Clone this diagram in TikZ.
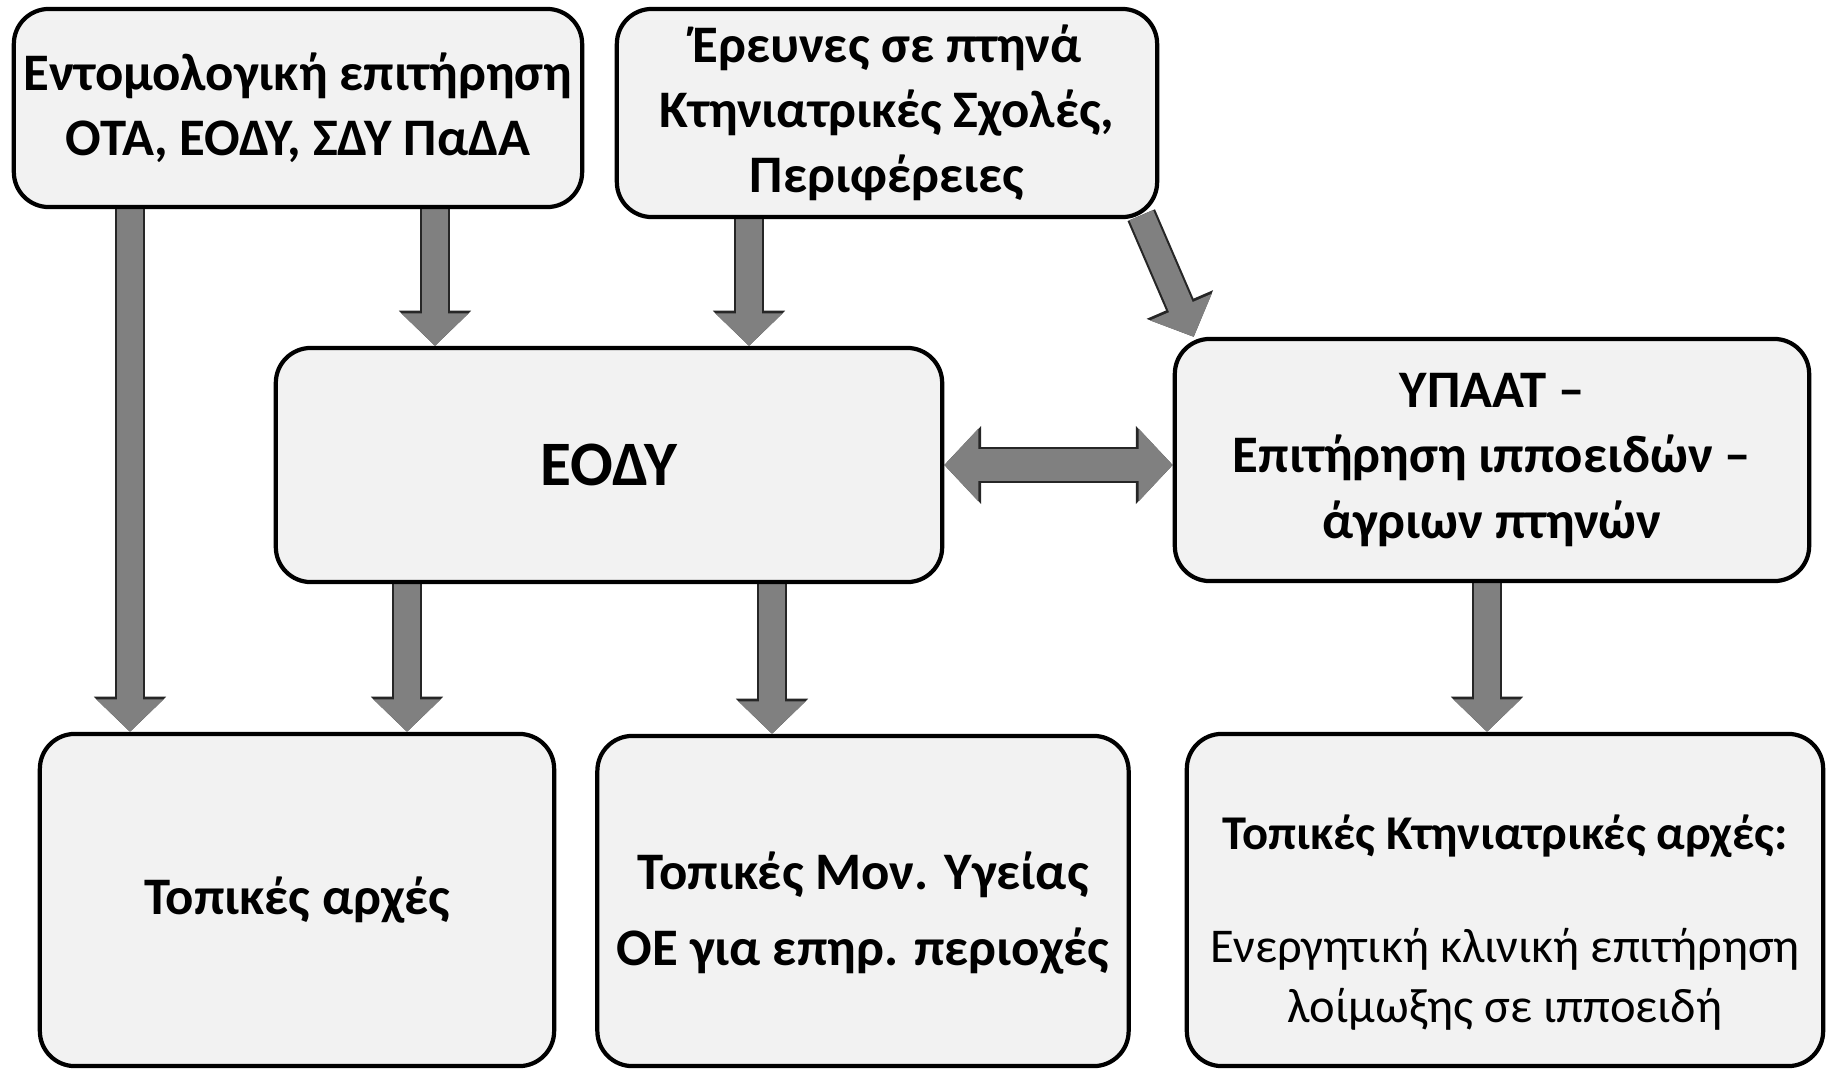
\documentclass[tikz,border=0pt]{standalone}
\usepackage{fontspec}
\setmainfont{Carlito}
\usetikzlibrary{arrows.meta, calc, positioning, backgrounds}

\definecolor{boxgray}{HTML}{F2F2F2}
\definecolor{arrowgray}{HTML}{808080}
\definecolor{arrowline}{HTML}{262626}

\tikzset{
    box/.style={draw=black, line width=1.2pt, rounded corners=0.35cm, fill=boxgray,
        align=center, inner sep=0pt, font=\bfseries\fontsize{15}{18.5}\selectfont},
    fatarrow/.style={draw=arrowgray, line width=7.3pt, -{Triangle[width=18.6pt,length=9.2pt]},
        preaction={draw=arrowline, line width=8.5pt, -{Triangle[width=20pt,length=10pt]}}},
    twoway/.style={draw=arrowgray, line width=9pt,
        {Triangle[width=20.2pt,length=9.7pt]}-{Triangle[width=20.2pt,length=9.7pt]},
        preaction={draw=arrowline, line width=10.2pt,
        {Triangle[width=21.6pt,length=10.5pt]}-{Triangle[width=21.6pt,length=10.5pt]}}},
}

\begin{document}
\begin{tikzpicture}[x=0.01cm, y=-0.01cm]
    \useasboundingbox (0,0) rectangle (1832,1069);

    % Top row: where the data come from
    \node[box, minimum width=5.68cm, minimum height=1.98cm] (ento) at (298,108)
        {Εντομολογική επιτήρηση\\ΟΤΑ, ΕΟΔΥ, ΣΔΥ ΠαΔΑ};
    \node[box, minimum width=5.40cm, minimum height=2.08cm] (birds) at (887,113)
        {Έρευνες σε πτηνά\\Κτηνιατρικές Σχολές,\\Περιφέρειες};

    % Middle row
    \node[box, minimum width=6.66cm, minimum height=2.34cm, font=\bfseries\fontsize{18}{22}\selectfont] (eody) at (609,465) {ΕΟΔΥ};
    \node[box, minimum width=6.34cm, minimum height=2.42cm] (ypaat) at (1492,460)
        {ΥΠΑΑΤ –\\Επιτήρηση ιπποειδών –\\άγριων πτηνών};

    % Bottom row
    \node[box, minimum width=5.14cm, minimum height=3.32cm] (local) at (297,900) {Τοπικές αρχές};
    \node[box, minimum width=5.31cm, minimum height=3.30cm] (health) at (863,901)
        {\rule{0pt}{0.62cm}Τοπικές Μον. Υγείας\\[3pt]ΟΕ για επηρ. περιοχές};
    \node[box, minimum width=6.36cm, minimum height=3.32cm, font=\fontsize{13.8}{17}\selectfont] (vet) at (1505,900)
        {\rule{0pt}{0.8cm}\textbf{Τοπικές Κτηνιατρικές αρχές:}\\[15pt]Ενεργητική κλινική επιτήρηση\\λοίμωξης σε ιπποειδή};

    \begin{scope}[on background layer]
        % Vertical block arrows
        \foreach \src/\dst/\x in {ento/local/130, ento/eody/435, birds/eody/749,
                                  eody/local/407, eody/health/772, ypaat/vet/1487} {
            \coordinate (col) at (\x,0);
            \draw[fatarrow] (\src.south -| col) -- (\dst.north -| col);
        }
        % Slanted and two-way arrows
        \draw[fatarrow] ($(birds.south east)+(-18,-4)$) -- ($(ypaat.north west)+(21,0)$);
        \draw[twoway] (eody.east) -- (ypaat.west |- eody.east);
    \end{scope}
\end{tikzpicture}
\end{document}
